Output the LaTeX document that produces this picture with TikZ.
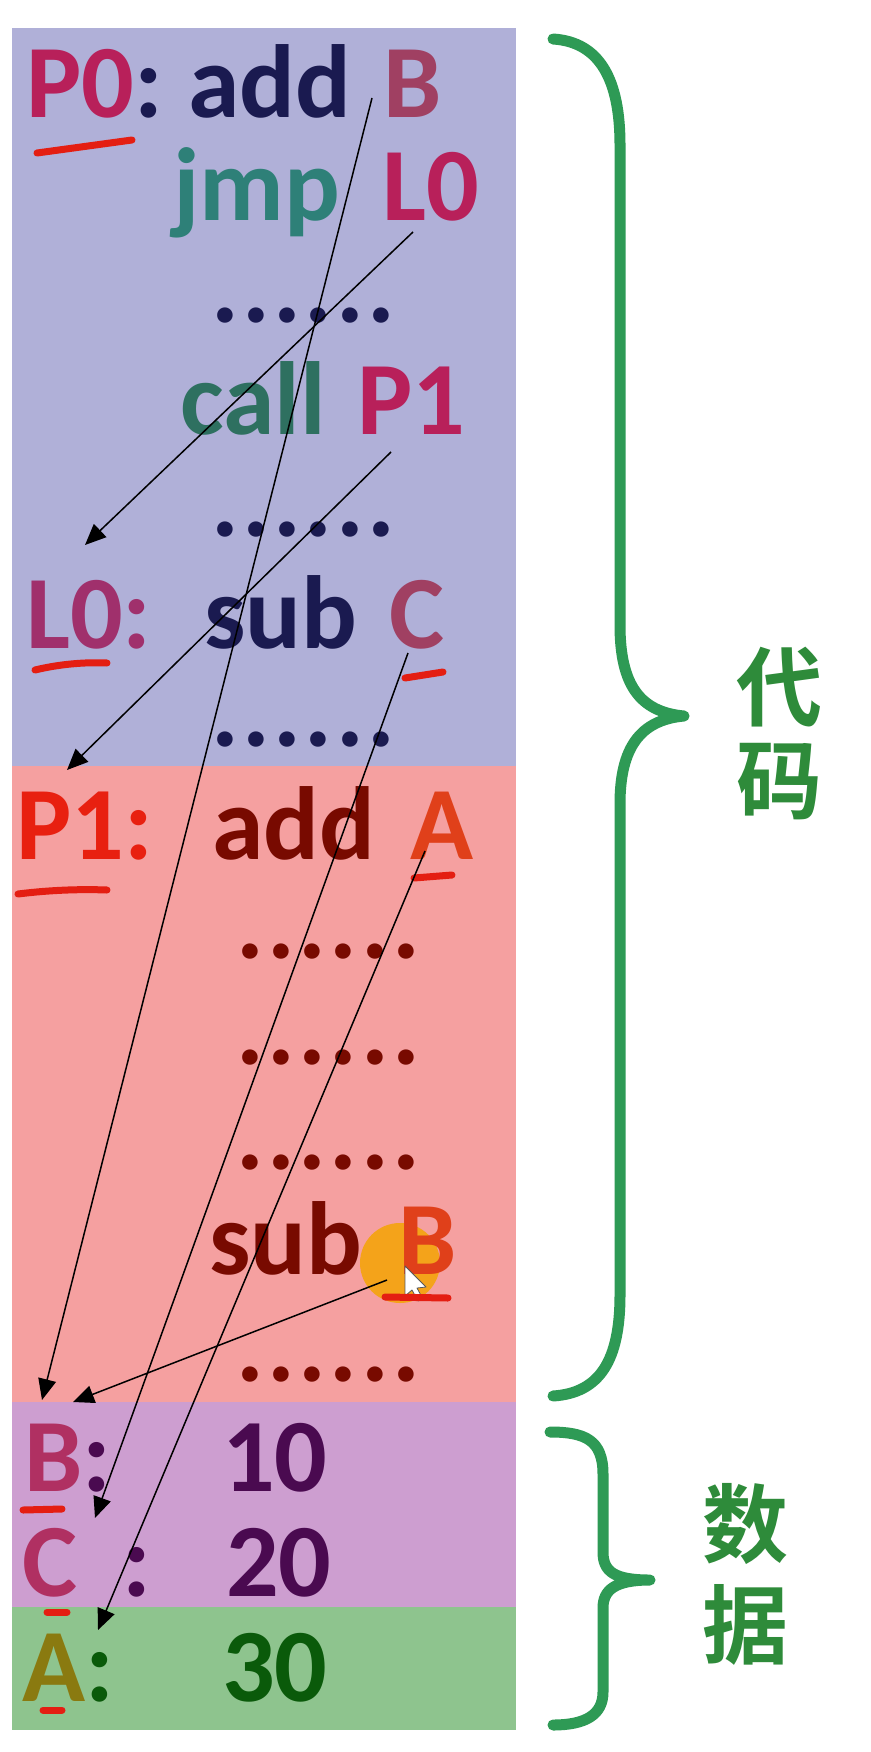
\documentclass[tikz,border=0pt]{standalone}
\usepackage{fontspec}
\usetikzlibrary{arrows.meta}
\newfontfamily\cf{Carlito}
\newfontfamily\cjkb{Noto Sans CJK SC Bold}
\definecolor{bgblue}{HTML}{B0B0D8}
\definecolor{bgpink}{HTML}{F5A0A0}
\definecolor{bgpurp}{HTML}{CD9ED0}
\definecolor{bggreen}{HTML}{8EC48E}
\definecolor{crim}{HTML}{B8205A}
\definecolor{navy}{HTML}{1A1A50}
\definecolor{teal1}{HTML}{2E8078}
\definecolor{teal2}{HTML}{2E7060}
\definecolor{bmut}{HTML}{A04062}
\definecolor{lzero}{HTML}{A0306C}
\definecolor{pred}{HTML}{E82010}
\definecolor{dred}{HTML}{780A00}
\definecolor{ored}{HTML}{E0401A}
\definecolor{dlab}{HTML}{B03062}
\definecolor{dpur}{HTML}{4A0A50}
\definecolor{olive}{HTML}{8A7A10}
\definecolor{dgreen}{HTML}{0A5A0A}
\definecolor{ulred}{HTML}{E41E12}
\definecolor{brgreen}{HTML}{2E9A55}
\definecolor{zigreen}{HTML}{2E8B3A}
\definecolor{hilite}{HTML}{F4A31A}
\newcommand\drow{.\kern3.5pt.\kern3.5pt.\kern3.5pt.\kern3.5pt.\kern3.5pt.}
\tikzset{
  txt/.style={anchor=base west, inner sep=0pt, font=\cf\bfseries\fontsize{104}{110}\selectfont},
  cjk/.style={inner sep=0pt, text=zigreen, font=\cjkb\fontsize{86}{90}\selectfont},
  link/.style={draw=black, line width=1.5pt, -{Triangle[length=21pt,width=18pt]}},
  redline/.style={draw=ulred, line width=7pt, line cap=round},
  brace/.style={draw=brgreen, line width=11pt, line cap=round, line join=round},
}
\begin{document}
\begin{tikzpicture}[x=1pt,y=-1pt]
\useasboundingbox (0,0) rectangle (870,1752);
\fill[white] (0,0) rectangle (870,1752);
% backgrounds
\fill[bgblue] (12,28) rectangle (516,766);
\fill[bgpink] (12,766) rectangle (516,1402);
\fill[bgpurp] (12,1402) rectangle (516,1607);
\fill[bggreen] (12,1607) rectangle (516,1730);
% highlight
\fill[hilite] (400,1263) circle (40);
% code lines
\node[txt] (p0) at (26,118) {\textcolor{crim}{P0}\textcolor{navy}{:}};
\node[txt,text=navy] (add1) at (188,118) {add};
\node[txt,text=bmut] (b1) at (383,118) {B};
\node[txt,text=teal1] (jmp) at (173,221) {jmp};
\node[txt,text=crim] (l0a) at (382,221) {L0};
\node[txt,text=navy] (d1) at (211,323) {\drow};
\node[txt,text=teal2] (call) at (180,434) {call};
\node[txt,text=crim] (p1a) at (357,434) {P1};
\node[txt,text=navy] (d2) at (211,536) {\drow};
\node[txt,text=lzero] (l0b) at (26,648) {L0:};
\node[txt,text=navy] (sub1) at (204,648) {sub};
\node[txt,text=bmut] (c1) at (389,648) {C};
\node[txt,text=navy] (d3) at (211,746) {\drow};
\node[txt,text=pred] (p1b) at (16,859) {P1:};
\node[txt,text=dred] (add2) at (212,859) {add};
\node[txt,text=ored] (a1) at (410,859) {A};
\node[txt,text=dred] (d4) at (236,958) {\drow};
\node[txt,text=dred] (d5) at (236,1064) {\drow};
\node[txt,text=dred] (d6) at (236,1169) {\drow};
\node[txt,text=dred] (sub2) at (209,1274) {sub};
\node[txt,text=ored] (b2) at (398,1274) {B};
\node[txt,text=dred] (d7) at (236,1381) {\drow};
% data
\node[txt] (bd) at (24,1491) {\textcolor{dlab}{B}\textcolor{dpur}{:}};
\node[txt,text=dpur] (v10) at (222,1491) {10};
\node[txt,text=dlab] (cd) at (22,1596) {C};
\node[txt,text=dpur] (cc) at (122,1596) {:};
\node[txt,text=dpur] (v20) at (226,1596) {20};
\node[txt] (ad) at (22,1701) {\textcolor{olive}{A}\textcolor{dgreen}{:}};
\node[txt,text=dgreen] (v30) at (222,1701) {30};
% cursor
\filldraw[fill=white, draw=gray!70!black, line width=0.8pt, line join=round]
  (405,1266) -- (405,1296) -- (412,1290) -- (418,1301) -- (423,1299) -- (417,1288) -- (426,1287) -- cycle;
% red underlines
\draw[redline] (37,153) -- (132,140);
\draw[redline] (35,670) .. controls (60,664) and (85,662) .. (107,663);
\draw[redline] (405,678) -- (443,672);
\draw[redline] (18,894) .. controls (50,890) and (80,889) .. (107,890);
\draw[redline] (414,878) -- (452,875);
\draw[redline] (385,1297) -- (448,1298);
\draw[redline] (23,1510) -- (62,1509);
\draw[redline] (47,1612) -- (67,1612);
\draw[redline] (43,1710) -- (62,1710);
% arrow endpoints
\coordinate (sB1) at (372,98);
\coordinate (tB1) at (42,1400);
\coordinate (sL0) at (413,232);
\coordinate (tL0) at (85,545);
\coordinate (sP1) at (391,452);
\coordinate (tP1) at (67,770);
\coordinate (sC) at (408,653);
\coordinate (tC) at (95,1518);
\coordinate (sA) at (425,851);
\coordinate (tA) at (98,1630);
\coordinate (sB2) at (387,1280);
\coordinate (tB2) at (73,1402);
\draw[link] (sB1) -- (tB1);
\draw[link] (sL0) -- (tL0);
\draw[link] (sP1) -- (tP1);
\draw[link] (sC) -- (tC);
\draw[link] (sA) -- (tA);
\draw[link] (sB2) -- (tB2);
% braces
\draw[brace] (553,39) .. controls (600,42) and (620,80) .. (620,145) -- (620,625)
  .. controls (620,685) and (640,712) .. (684,716)
  .. controls (640,720) and (620,748) .. (620,804) -- (620,1295)
  .. controls (620,1360) and (600,1393) .. (553,1396);
\draw[brace] (550,1432) .. controls (585,1432) and (603,1440) .. (603,1474) -- (603,1552)
  .. controls (603,1572) and (615,1580) .. (650,1580)
  .. controls (615,1580) and (603,1590) .. (603,1608) -- (603,1692)
  .. controls (603,1715) and (585,1725) .. (553,1725);
% labels
\node[cjk] (dai) at (779,687) {代};
\node[cjk] (ma) at (779,782) {码};
\node[cjk] (shu) at (745,1524) {数};
\node[cjk] (ju) at (745,1625) {据};
\end{tikzpicture}
\end{document}
